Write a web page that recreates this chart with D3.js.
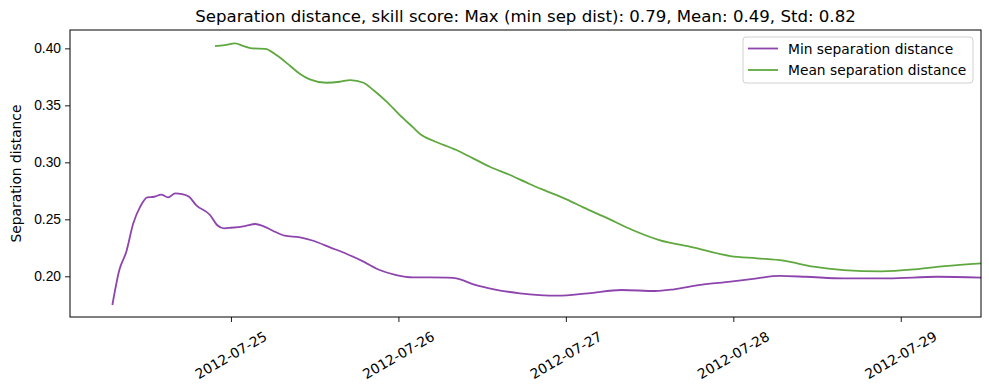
<!DOCTYPE html>
<html>
<head>
<meta charset="utf-8">
<script src="https://cdn.jsdelivr.net/npm/d3@7"></script>
<style>
  body { margin: 0; background: #fff; }
  svg { font-family: "DejaVu Sans", sans-serif; }
</style>
</head>
<body>
<div id="chart"></div>
<script>
// hours after 2012-07-24 00:00
const startDate = new Date(2012, 6, 24, 0, 0);
const minHours = [7, 8, 9, 10, 11, 12, 13, 14, 15, 16, 17, 18, 19, 21, 22, 23, 24, 26, 27.5, 28.6, 30, 31.7, 33.9, 35.8, 38.2, 40.6, 43, 45.3, 47.7, 50.1, 52.5, 54.9, 56.3, 59, 61.7, 65.4, 70.8, 75.2, 80, 84.8, 87.5, 91.3, 95.6, 99.4, 102.6, 106.4, 111.8, 118.2, 125.2, 131.5];
const minValues = [0.1748, 0.2055, 0.2216, 0.2465, 0.2611, 0.2693, 0.2698, 0.2716, 0.2693, 0.2728, 0.2722, 0.2698, 0.2625, 0.2538, 0.2450, 0.2421, 0.2426, 0.2441, 0.2459, 0.2441, 0.2400, 0.2356, 0.2342, 0.2312, 0.2254, 0.2196, 0.2129, 0.2055, 0.2011, 0.1991, 0.1991, 0.1988, 0.1982, 0.1924, 0.1886, 0.1851, 0.1830, 0.1851, 0.1880, 0.1871, 0.1886, 0.1924, 0.1953, 0.1982, 0.2003, 0.1996, 0.1982, 0.1982, 0.1996, 0.1988];
const meanHours = [21.7, 23.1, 24.6, 25.8, 27, 28.9, 30.5, 32.5, 33.9, 35.3, 37.7, 39.6, 41.1, 43, 44.4, 46.3, 48.2, 50.1, 51.3, 53, 56.3, 58.7, 61.1, 64, 66.8, 69.2, 72.1, 74.5, 78.3, 80.5, 85.4, 90.2, 95.6, 99.4, 103.2, 107.5, 111.8, 117.2, 122, 126.3, 131.5];
const meanValues = [0.4020, 0.4029, 0.4044, 0.4020, 0.4000, 0.3996, 0.3941, 0.3845, 0.3775, 0.3728, 0.3698, 0.3707, 0.3722, 0.3698, 0.3634, 0.3532, 0.3415, 0.3307, 0.3239, 0.3189, 0.3108, 0.3035, 0.2961, 0.2889, 0.2810, 0.2748, 0.2675, 0.2605, 0.2500, 0.2435, 0.2318, 0.2254, 0.2178, 0.2158, 0.2137, 0.2084, 0.2055, 0.2044, 0.2061, 0.2090, 0.2114];
const yTicks = [0.20, 0.25, 0.30, 0.35, 0.40];
const xTickDays = ["2012-07-25", "2012-07-26", "2012-07-27", "2012-07-28", "2012-07-29"];
const seriesNames = ["Min separation distance", "Mean separation distance"];
const seriesColors = ["#8e44ad", "#5fa83f"];
const titleText = "Separation distance, skill score: Max (min sep dist): 0.79, Mean: 0.49, Std: 0.82";

const width = 989, height = 390;
const margin = { top: 30, right: 8, bottom: 73, left: 70 };
const fontSize = "13.8px";

const toDate = h => new Date(startDate.getTime() + h * 3600 * 1000);
const parseDay = d3.timeParse("%Y-%m-%d");

const svg = d3.select("#chart").append("svg")
    .attr("width", width)
    .attr("height", height);

const x = d3.scaleTime()
    .domain([toDate(0.93), toDate(131.5)])
    .range([margin.left, width - margin.right]);

const y = d3.scaleLinear()
    .domain([0.1643, 0.4161])
    .range([height - margin.bottom, margin.top]);

const series = [
    minHours.map((h, i) => ({ t: toDate(h), v: minValues[i] })),
    meanHours.map((h, i) => ({ t: toDate(h), v: meanValues[i] }))
];

const line = d3.line()
    .x(d => x(d.t))
    .y(d => y(d.v))
    .curve(d3.curveMonotoneX);

svg.append("defs").append("clipPath").attr("id", "plotClip")
    .append("rect")
    .attr("x", margin.left).attr("y", margin.top)
    .attr("width", width - margin.left - margin.right)
    .attr("height", height - margin.top - margin.bottom);

const plot = svg.append("g").attr("clip-path", "url(#plotClip)");
series.forEach((s, i) => {
    plot.append("path")
        .datum(s)
        .attr("fill", "none")
        .attr("stroke", seriesColors[i])
        .attr("stroke-width", 1.8)
        .attr("stroke-linejoin", "round")
        .attr("d", line);
});

// Y axis
const yAxis = svg.append("g")
    .attr("transform", `translate(${margin.left},0)`)
    .call(d3.axisLeft(y).tickValues(yTicks).tickFormat(d3.format(".2f")).tickSize(5).tickPadding(4));
yAxis.select(".domain").remove();
yAxis.selectAll("line").attr("stroke", "#000").attr("stroke-width", 0.9);
yAxis.selectAll("text").style("font-size", fontSize).attr("fill", "#000");

// X axis
const xAxis = svg.append("g")
    .attr("transform", `translate(0,${height - margin.bottom})`)
    .call(d3.axisBottom(x).tickValues(xTickDays.map(parseDay)).tickSize(5).tickFormat(""));
xAxis.select(".domain").remove();
xAxis.selectAll("line").attr("stroke", "#000").attr("stroke-width", 0.9);

svg.append("g").selectAll("text")
    .data(xTickDays)
    .join("text")
    .attr("transform", d => `translate(${x(parseDay(d))},${height - margin.bottom + 38}) rotate(-30)`)
    .attr("text-anchor", "middle")
    .attr("dominant-baseline", "central")
    .style("font-size", fontSize)
    .attr("fill", "#000")
    .text(d => d);

// Frame
svg.append("rect")
    .attr("x", margin.left).attr("y", margin.top)
    .attr("width", width - margin.left - margin.right)
    .attr("height", height - margin.top - margin.bottom)
    .attr("fill", "none")
    .attr("stroke", "#000")
    .attr("stroke-width", 1);

// Title and y label
svg.append("text")
    .attr("x", (margin.left + width - margin.right) / 2)
    .attr("y", 22)
    .attr("text-anchor", "middle")
    .style("font-size", "16.6px")
    .text(titleText);

svg.append("text")
    .attr("transform", `translate(21,${(margin.top + height - margin.bottom) / 2}) rotate(-90)`)
    .attr("text-anchor", "middle")
    .style("font-size", fontSize)
    .text("Separation distance");

// Legend
const legend = svg.append("g").attr("transform", "translate(743,37)");
legend.append("rect")
    .attr("width", 230).attr("height", 46)
    .attr("rx", 3)
    .attr("fill", "#fff")
    .attr("fill-opacity", 0.8)
    .attr("stroke", "#d0d0d0");
seriesNames.forEach((name, i) => {
    const ly = 11.5 + i * 21.5;
    legend.append("line")
        .attr("x1", 5).attr("x2", 35)
        .attr("y1", ly).attr("y2", ly)
        .attr("stroke", seriesColors[i])
        .attr("stroke-width", 1.8);
    legend.append("text")
        .attr("x", 45).attr("y", ly)
        .attr("dominant-baseline", "central")
        .style("font-size", fontSize)
        .text(name);
});
</script>
</body>
</html>
